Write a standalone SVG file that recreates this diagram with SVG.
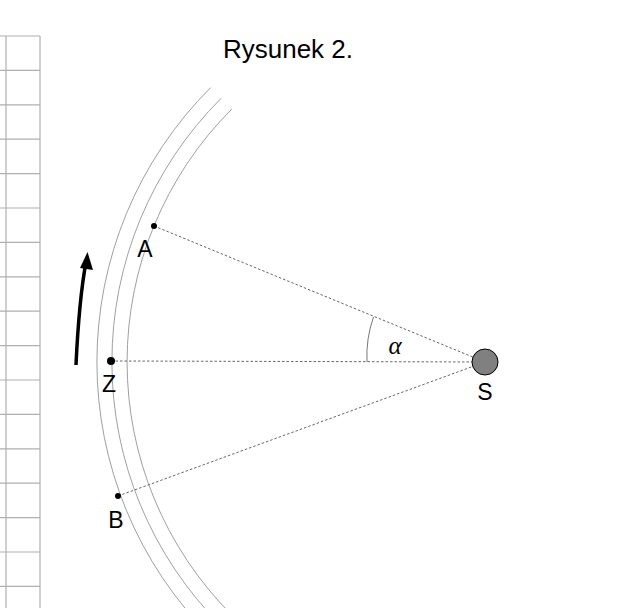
<svg xmlns="http://www.w3.org/2000/svg" width="630" height="608" viewBox="0 0 630 608">
<style>
.grid{stroke:#b0b0b0;stroke-width:1.2;fill:none}
.orbit{stroke:#a0a0a0;stroke-width:1;fill:none}
.ray{stroke:#555;stroke-width:0.9;stroke-dasharray:2.5,2;fill:none}
.lbl{font-family:"Liberation Sans",Arial,sans-serif;font-size:23px;fill:#000;text-anchor:middle}
.title{font-family:"Liberation Sans",Arial,sans-serif;font-size:26px;fill:#000;text-anchor:middle}
</style>
<g id="grid">
<path class="grid" d="M6,36 V608 M40,36 V608"/>
<path class="grid" d="M0,36H40 M0,70.4H40 M0,104.8H40 M0,139.2H40 M0,173.6H40 M0,208H40 M0,242.4H40 M0,276.8H40 M0,311.2H40 M0,345.6H40 M0,380H40 M0,414.4H40 M0,448.8H40 M0,483.2H40 M0,517.6H40 M0,552H40 M0,586.4H40"/>
</g>
<text class="title" x="288" y="58">Rysunek 2.</text>
<g id="orbits">
<path class="orbit" d="M210.6,87.6 A388,388 0 0 0 210.6,636.4"/>
<path class="orbit" d="M221.2,98.2 A373,373 0 0 0 221.2,625.8"/>
<path class="orbit" d="M231.9,108.9 A358,358 0 0 0 231.9,615.1"/>
</g>
<g id="connectors">
<line class="ray" x1="154" y1="226" x2="485" y2="362"/>
<line class="ray" x1="111" y1="361" x2="485" y2="362"/>
<line class="ray" x1="118" y1="496" x2="485" y2="362"/>
<path d="M373.5,317 A118,118 0 0 0 367,362" stroke="#777" stroke-width="1" fill="none"/>
<path d="M76,365 Q79,300 86,262" stroke="#000" stroke-width="3.5" fill="none"/>
<polygon points="87.5,252 93,270 80,268" fill="#000"/>
</g>
<g id="S"><circle cx="485" cy="362" r="13" fill="#808080" stroke="#000" stroke-width="1"/><text class="lbl" x="485" y="400">S</text></g>
<g id="A"><circle cx="154" cy="226" r="3" fill="#000"/><text class="lbl" x="145" y="257">A</text></g>
<g id="Z"><circle cx="111" cy="361" r="4" fill="#000"/><text class="lbl" x="109" y="392">Z</text></g>
<g id="B"><circle cx="118" cy="496" r="3" fill="#000"/><text class="lbl" x="116" y="528">B</text></g>
<text x="395" y="354" font-family="Liberation Serif,serif" font-style="italic" font-size="25" text-anchor="middle">α</text>
</svg>
